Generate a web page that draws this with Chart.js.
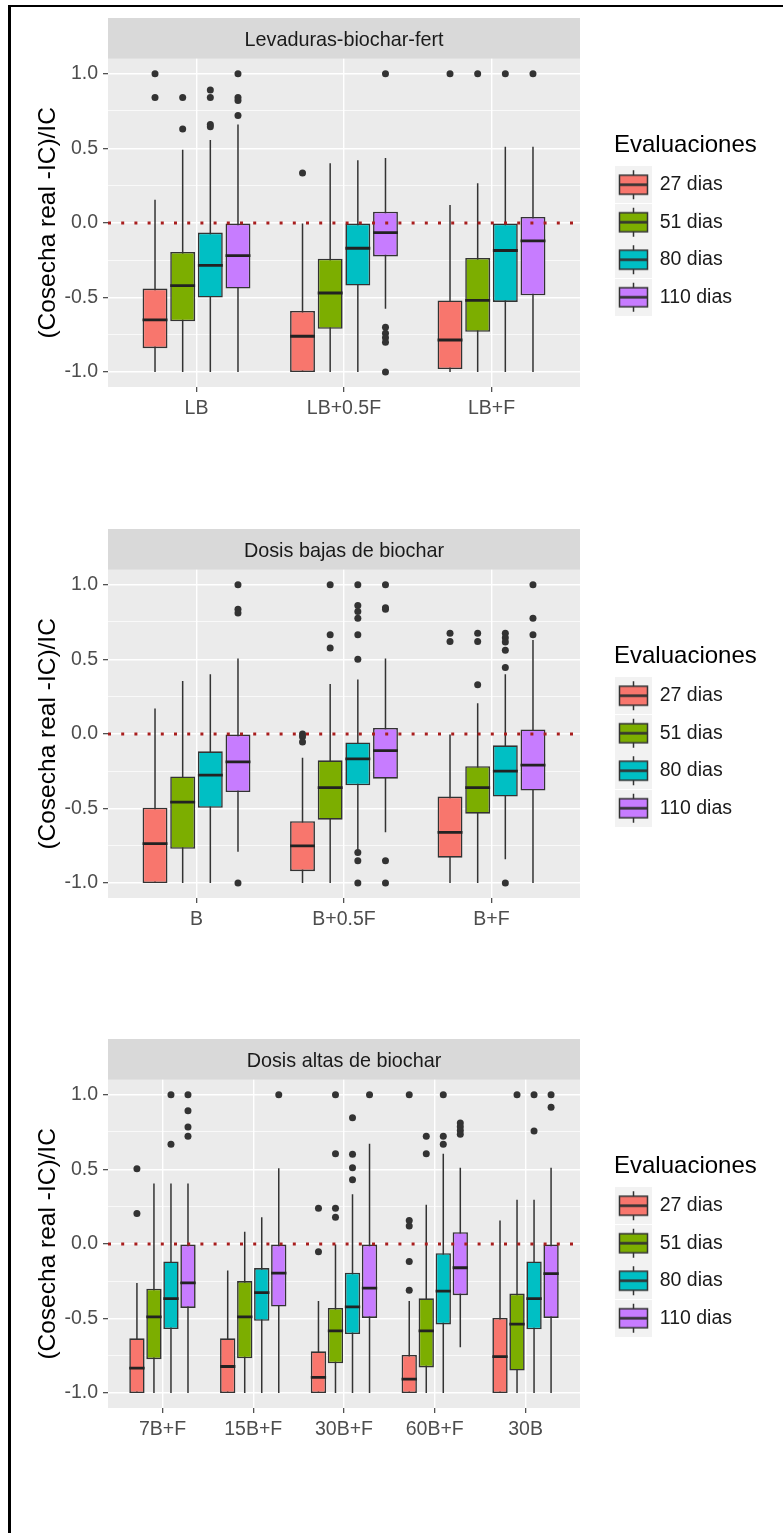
<!DOCTYPE html>
<html><head><meta charset="utf-8">
<script src="https://cdn.jsdelivr.net/npm/chart.js@4.4.1/dist/chart.umd.min.js"></script>
<style>
html,body{margin:0;padding:0;background:#fff;}
body{width:783px;height:1533px;position:relative;overflow:hidden;}
.frame{position:absolute;left:8px;top:5px;width:800px;height:1560px;border-top:2px solid #000;border-left:3px solid #000;box-sizing:border-box;}
.panel{position:absolute;left:0;width:783px;height:510px;}
canvas{display:block;}
</style></head><body>
<div class="frame"></div>
<div class="panel" style="top:0px"><canvas id="c1" width="783" height="510"></canvas></div>
<div class="panel" style="top:511px"><canvas id="c2" width="783" height="510"></canvas></div>
<div class="panel" style="top:1021px"><canvas id="c3" width="783" height="510"></canvas></div>
<script>
// ---------- data ----------
const seriesLabels = ['27 dias', '51 dias', '80 dias', '110 dias'];
const legendTitle = 'Evaluaciones';
const yAxisTitle = '(Cosecha real -IC)/IC';
const yTickValues = [-1, -0.75, -0.5, -0.25, 0, 0.25, 0.5, 0.75, 1];
const yMajorTicks = [-1, -0.5, 0, 0.5, 1];
const refLineValue = 0;

// Panel 1
const p1Title = 'Levaduras-biochar-fert';
const p1Cats = ['LB', 'LB+0.5F', 'LB+F'];
const p1Low  = [[-1, -1, -1], [-1, -1, -1], [-1, -1, -1], [-1, -0.575, -1]];
const p1Q1   = [[-0.84, -1, -0.98], [-0.66, -0.71, -0.73], [-0.5, -0.42, -0.53], [-0.44, -0.225, -0.485]];
const p1Med  = [[-0.65, -0.76, -0.785], [-0.42, -0.47, -0.52], [-0.285, -0.17, -0.185], [-0.22, -0.065, -0.12]];
const p1Q3   = [[-0.44, -0.59, -0.52], [-0.195, -0.24, -0.235], [-0.065, 0, 0], [0, 0.075, 0.04]];
const p1High = [[0.155, 0, 0.12], [0.49, 0.4, 0.265], [0.555, 0.42, 0.51], [0.66, 0.435, 0.51]];
const p1Out  = [
  [[1, 0.84], [0.335], [1]],
  [[0.84, 0.63], [], [1]],
  [[0.89, 0.84, 0.66, 0.645], [], [1]],
  [[1, 0.84, 0.82, 0.72], [1, -0.7, -0.74, -0.77, -0.8, -1], [1]]
];

// Panel 2
const p2Title = 'Dosis bajas de biochar';
const p2Cats = ['B', 'B+0.5F', 'B+F'];
const p2Low  = [[-1, -1, -1], [-1, -1, -1], [-1, -0.775, -0.84], [-0.79, -0.66, -1]];
const p2Q1   = [[-1, -0.92, -0.83], [-0.77, -0.575, -0.535], [-0.495, -0.345, -0.42], [-0.39, -0.3, -0.38]];
const p2Med  = [[-0.735, -0.75, -0.66], [-0.457, -0.36, -0.36], [-0.277, -0.168, -0.25], [-0.188, -0.112, -0.21]];
const p2Q3   = [[-0.495, -0.585, -0.42], [-0.285, -0.177, -0.217], [-0.117, -0.057, -0.077], [0, 0.04, 0.03]];
const p2High = [[0.17, -0.16, 0], [0.355, 0.335, 0.205], [0.4, 0.365, 0.4], [0.505, 0.505, 0.63]];
const p2Out  = [
  [[], [0, -0.02, -0.055], [0.675, 0.62]],
  [[], [1, 0.665, 0.575], [0.675, 0.62, 0.33]],
  [[], [1, 0.86, 0.82, 0.775, 0.665, 0.5, -0.795, -0.85, -1], [0.675, 0.645, 0.615, 0.56, 0.445, -1]],
  [[1, 0.835, 0.81, -1], [1, 0.845, 0.835, -0.85, -1], [1, 0.775, 0.665]]
];

// Panel 3
const p3Title = 'Dosis altas de biochar';
const p3Cats = ['7B+F', '15B+F', '30B+F', '60B+F', '30B'];
const p3Low  = [[-1, -1, -1, -1, -1], [-1, -1, -1, -1, -1], [-1, -1, -1, -1, -1], [-1, -1, -1, -0.693, -1]];
const p3Q1   = [[-1, -1, -1, -1, -1], [-0.773, -0.767, -0.8, -0.828, -0.849], [-0.571, -0.516, -0.604, -0.54, -0.573], [-0.429, -0.42, -0.496, -0.344, -0.496]];
const p3Med  = [[-0.833, -0.822, -0.895, -0.907, -0.756], [-0.489, -0.489, -0.583, -0.583, -0.538], [-0.367, -0.327, -0.422, -0.316, -0.367], [-0.262, -0.196, -0.296, -0.16, -0.2]];
const p3Q3   = [[-0.633, -0.633, -0.72, -0.744, -0.496], [-0.3, -0.249, -0.429, -0.365, -0.333], [-0.118, -0.162, -0.193, -0.062, -0.118], [0, 0, 0, 0.078, 0]];
const p3High = [[-0.262, -0.178, -0.383, -0.383, 0.156], [0.404, 0.082, 0, 0.262, 0.296], [0.404, 0.178, 0.333, 0.604, 0.296], [0.404, 0.507, 0.671, 0.511, 0.511]];
const p3Out  = [
  [[0.504, 0.204], [], [0.238, -0.053], [1, 0.156, 0.12, -0.118, -0.311], []],
  [[], [], [1, 0.604, 0.238, 0.178], [0.722, 0.604], [1]],
  [[1, 0.667], [], [0.845, 0.6, 0.51, 0.43], [1, 0.722, 0.667], [1, 0.756]],
  [[1, 0.893, 0.784, 0.722], [1], [1], [0.81, 0.785, 0.76, 0.735], [1, 0.916]]
];

// ---------- style ----------
const FONT = '"Liberation Sans", Arial, sans-serif';
const seriesColors = ['#F8766D', '#7CAE00', '#00BFC4', '#C77CFF'];
const OUTLINE = '#333333';
const X_EXPAND = 0.6;       // ggplot discrete expansion
const GROUP_W = 0.75;       // dodge width
const BAR_PCT = 0.9;
const Y_MIN = -1.1, Y_MAX = 1.1;
const CANVAS_W = 783;
const TARGET_PLOT_RIGHT = 580, TARGET_LEGEND_LEFT = 614, LEGEND_W = 165;

Chart.defaults.font.family = FONT;

function makeKey(color) {
  const c = document.createElement('canvas');
  c.width = 52; c.height = 37;
  const g = c.getContext('2d');
  g.fillStyle = '#F2F2F2';
  g.fillRect(0, 0, 37, 37);
  g.strokeStyle = OUTLINE;
  g.lineWidth = 1.5;
  g.beginPath(); g.moveTo(18.5, 4); g.lineTo(18.5, 33); g.stroke();
  g.fillStyle = color;
  g.fillRect(4.5, 9, 28, 19);
  g.strokeRect(4.5, 9, 28, 19);
  g.lineWidth = 2.6;
  g.beginPath(); g.moveTo(4.5, 18.5); g.lineTo(32.5, 18.5); g.stroke();
  return c;
}
const keyImgs = seriesColors.map(makeKey);

const panelBg = {
  id: 'panelBg',
  beforeDraw(chart) {
    const {ctx, chartArea: a} = chart;
    ctx.save();
    ctx.fillStyle = '#EBEBEB';
    ctx.fillRect(a.left, a.top, a.width, a.height);
    const tb = chart.titleBlock;
    if (tb) {
      ctx.fillStyle = '#D9D9D9';
      ctx.fillRect(tb.left, tb.top, tb.width, tb.height);
    }
    ctx.restore();
  }
};

function halfBoxPx(chart) {
  const x = chart.scales.x;
  const unit = Math.abs(x.getPixelForValue(1) - x.getPixelForValue(0));
  return unit * GROUP_W / 4 * BAR_PCT / 2;
}

function buildPanel(id, title, cats, low, q1, med, q3, high, out) {
  const n = cats.length;
  const dodge = GROUP_W / 4;
  const datasets = [];
  for (let k = 0; k < 4; k++) {
    const off = (k - 1.5) * dodge;
    datasets.push({
      type: 'bar', label: seriesLabels[k] + ' whisker', stack: 's' + k, order: 3,
      data: cats.map((c, i) => ({x: i + 1, y: [low[k][i], high[k][i]]})),
      backgroundColor: OUTLINE, borderWidth: 0, maxBarThickness: 1.5,
      categoryPercentage: GROUP_W, barPercentage: BAR_PCT
    });
    datasets.push({
      type: 'bar', label: seriesLabels[k], stack: 's' + k, order: 2,
      data: cats.map((c, i) => ({x: i + 1, y: [q1[k][i], q3[k][i]]})),
      backgroundColor: seriesColors[k], borderColor: OUTLINE, borderWidth: 1.6, borderSkipped: false,
      categoryPercentage: GROUP_W, barPercentage: BAR_PCT
    });
    datasets.push({
      type: 'scatter', label: seriesLabels[k] + ' median', order: 1,
      data: cats.map((c, i) => ({x: i + 1 + off, y: med[k][i]})),
      pointStyle: 'line', pointRadius: ctx => halfBoxPx(ctx.chart),
      pointBorderWidth: 2.8, pointBorderColor: '#222222', pointBackgroundColor: '#222222'
    });
    const od = [];
    out[k].forEach((arr, i) => arr.forEach(v => od.push({x: i + 1 + off, y: v})));
    datasets.push({
      type: 'scatter', label: seriesLabels[k] + ' outliers', order: 1, data: od,
      pointStyle: 'circle', pointRadius: 3.5, pointBorderWidth: 0, pointBackgroundColor: OUTLINE
    });
  }
  datasets.push({
    type: 'line', label: 'ref', order: 0,
    data: [{x: 1 - X_EXPAND, y: refLineValue}, {x: n + X_EXPAND, y: refLineValue}],
    borderColor: '#A81E1E', borderWidth: 3, borderDash: [3, 10.2], borderCapStyle: 'butt',
    pointRadius: 0, fill: false, tension: 0
  });

  const tickFont = {family: FONT, size: 19.5};
  const padRight = CANVAS_W - TARGET_LEGEND_LEFT - LEGEND_W;
  const chart = new Chart(document.getElementById(id), {
    type: 'bar',
    data: {datasets},
    plugins: [panelBg],
    options: {
      responsive: false, animation: false, events: [],
      devicePixelRatio: 1,
      layout: {padding: {left: 0, top: 18, right: padRight, bottom: 83}},
      scales: {
        x: {
          type: 'linear', min: 1 - X_EXPAND, max: n + X_EXPAND, offset: false,
          afterBuildTicks: s => { s.ticks = cats.map((c, i) => ({value: i + 1})); },
          afterFit: s => { s.height = 40; },
          ticks: {autoSkip: false, maxRotation: 0, minRotation: 0, padding: 5, color: '#4D4D4D', font: tickFont,
                  callback: (v, i) => cats[i]},
          grid: {color: '#FFFFFF', lineWidth: 1.4, offset: false, tickLength: 5, tickColor: OUTLINE, tickWidth: 1.1},
          border: {display: false}
        },
        y: {
          type: 'linear', min: Y_MIN, max: Y_MAX, stacked: false,
          afterBuildTicks: s => { s.ticks = yTickValues.map(v => ({value: v})); },
          afterFit: s => { s.width = 108; },
          ticks: {autoSkip: false, padding: 5, color: '#4D4D4D', font: tickFont,
                  callback: v => yMajorTicks.includes(v) ? v.toFixed(1) : ''},
          grid: {
            color: '#FFFFFF',
            lineWidth: c => (c.tick && yMajorTicks.includes(c.tick.value)) ? 1.4 : 0.7,
            tickLength: 5,
            tickColor: c => (c.tick && yMajorTicks.includes(c.tick.value)) ? OUTLINE : 'rgba(0,0,0,0)',
            tickWidth: 1.1
          },
          border: {display: false},
          title: {display: true, text: yAxisTitle, color: '#000000', font: {family: FONT, size: 24.5}, padding: {top: 34, bottom: 0}}
        },
        yR: {
          type: 'linear', position: 'right', display: true,
          grid: {display: false}, border: {display: false}, ticks: {display: false},
          afterFit: s => { s.width = TARGET_LEGEND_LEFT - TARGET_PLOT_RIGHT; }
        }
      },
      plugins: {
        tooltip: {enabled: false},
        title: {display: true, text: title, fullSize: false, color: '#1A1A1A',
                font: {family: FONT, size: 19.8, weight: 'normal', lineHeight: 1.2}, padding: {top: 11, bottom: 6}},
        legend: {
          position: 'right', align: 'center', onClick: null,
          title: {display: true, text: legendTitle, color: '#000000', position: 'start',
                  font: {family: FONT, size: 24, lineHeight: 1}, padding: {top: 13, bottom: 0}},
          labels: {
            usePointStyle: true, pointStyleWidth: 18, padding: 18, color: '#1A1A1A',
            font: {family: FONT, size: 19.5},
            generateLabels: () => seriesLabels.map((t, k) => ({
              text: t, pointStyle: keyImgs[k], fillStyle: seriesColors[k], strokeStyle: OUTLINE,
              lineWidth: 0, hidden: false, datasetIndex: k, fontColor: '#1A1A1A'
            }))
          }
        }
      }
    }
  });
  // give the legend box room for its title (ggplot legend width)
  const lg = chart.legend;
  const baseFit = lg.fit.bind(lg);
  lg.fit = function () { baseFit(); this.width = LEGEND_W; };
  chart.update();
  return chart;
}

buildPanel('c1', p1Title, p1Cats, p1Low, p1Q1, p1Med, p1Q3, p1High, p1Out);
buildPanel('c2', p2Title, p2Cats, p2Low, p2Q1, p2Med, p2Q3, p2High, p2Out);
buildPanel('c3', p3Title, p3Cats, p3Low, p3Q1, p3Med, p3Q3, p3High, p3Out);
</script>
</body></html>
